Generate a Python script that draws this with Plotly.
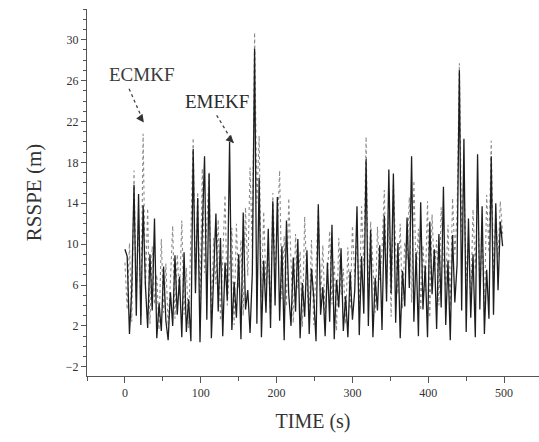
import plotly.graph_objects as go

time_s = list(range(0, 499, 3))

emekf = [9.5, 8.8, 1.2, 5.5, 15.8, 3.0, 14.9, 2.1, 13.8, 6.0, 1.8,
         9.0, 3.5, 12.5, 0.8, 4.2, 1.5, 7.8, 2.5, 0.6, 5.3,
         2.0, 8.9, 3.1, 6.8, 0.9, 9.2, 1.4, 4.6, 0.5, 19.3,
         5.2, 14.5, 0.4, 11.2, 18.6, 2.6, 16.9, 0.8, 7.5, 13.0,
         3.4, 10.6, 1.0, 8.2, 4.5, 20.0, 1.6, 6.3, 2.8, 9.0,
         0.7, 13.1, 3.6, 5.5, 1.3, 7.2, 29.1, 2.2, 16.5, 0.9,
         8.4, 3.3, 11.5, 1.8, 14.2, 4.0, 14.6, 2.5, 9.8, 0.6,
         12.3, 5.1, 2.0, 8.7, 3.4, 10.5, 0.8, 6.2, 2.9, 9.4,
         1.2, 7.6, 4.8, 0.5, 13.9, 3.1, 5.8, 1.0, 8.2, 2.4,
         11.9, 0.7, 6.5, 3.8, 9.6, 1.5, 4.9, 0.9, 7.3, 2.6,
         5.4, 13.7, 1.1, 8.8, 3.2, 18.3, 2.0, 11.4, 0.9, 6.7,
         3.5, 9.9, 1.6, 12.8, 4.4, 17.3, 5.2, 16.9, 2.3, 10.1,
         0.8, 7.4, 3.9, 12.6, 5.7, 18.6, 2.4, 9.2, 1.0, 14.1,
         3.6, 7.9, 0.9, 12.2, 5.1, 9.5, 1.7, 11.0, 3.8, 15.6,
         2.1, 8.4, 0.6, 10.9, 4.3, 8.0, 27.0, 3.5, 20.3, 1.4,
         12.5, 2.8, 9.0, 0.9, 18.8, 3.6, 13.7, 1.2, 7.5, 2.7,
         18.6, 3.1, 14.0, 5.5, 12.2, 9.8]

ecmkf = [8.2, 3.6, 10.1, 2.4, 17.2, 4.8, 12.6, 3.0, 20.8, 5.6, 13.5,
         2.2, 9.8, 4.1, 7.0, 1.6, 10.5, 3.3, 8.1, 2.0, 6.4,
         11.8, 2.7, 9.0, 4.9, 12.3, 3.1, 7.7, 1.8, 10.2, 20.4,
         6.0, 15.1, 3.9, 17.4, 7.2, 11.5, 17.0, 2.8, 10.6, 6.1,
         12.4, 2.5, 9.7, 14.8, 4.0, 8.3, 11.6, 2.1, 12.0, 5.7,
         10.4, 3.0, 13.6, 6.9, 17.5, 9.5, 30.7, 14.0, 20.6, 4.8,
         13.2, 6.0, 9.1, 2.7, 15.0, 7.4, 11.3, 17.2, 4.6, 10.8,
         3.9, 14.5, 7.8, 2.3, 11.0, 5.6, 9.3, 1.9, 12.7, 6.2,
         3.0, 10.4, 2.1, 8.8, 13.5, 4.4, 9.9, 2.6, 6.7, 11.3,
         4.1, 8.3, 1.5, 10.6, 5.0, 7.6, 2.2, 9.7, 3.6, 11.8,
         6.8, 10.5, 3.4, 13.7, 7.9, 20.5, 4.8, 12.2, 8.0, 3.3,
         11.7, 6.5, 9.4, 15.3, 5.8, 13.1, 2.9, 15.8, 9.6, 5.1,
         12.0, 3.7, 10.2, 8.5, 14.6, 4.3, 16.2, 7.0, 11.5, 3.5,
         9.9, 5.4, 14.2, 2.8, 12.9, 7.2, 10.4, 4.0, 13.6, 8.3,
         5.8, 11.9, 3.9, 14.5, 9.0, 13.0, 27.7, 11.2, 17.0, 6.4,
         10.8, 4.2, 13.4, 7.5, 15.6, 5.2, 11.1, 3.0, 14.8, 9.2,
         20.1, 6.6, 13.0, 8.7, 14.2, 11.0]

y_ticks = [-2, 2, 6, 10, 14, 18, 22, 26, 30]
x_ticks = [0, 100, 200, 300, 400, 500]

FONT = "Liberation Serif, Times New Roman, DejaVu Serif, serif"
TXT = "#333333"

fig = go.Figure()
fig.add_trace(go.Scatter(x=time_s, y=ecmkf, mode="lines", name="ECMKF",
                         line=dict(color="#8a8a8a", width=1.1, dash="dot")))
fig.add_trace(go.Scatter(x=time_s, y=emekf, mode="lines", name="EMEKF",
                         line=dict(color="#1e1e1e", width=1.3)))

# dotted leader lines
fig.add_shape(type="line", xref="x", yref="y", x0=5.5, y0=25.2, x1=24.5, y1=22.0,
              line=dict(color="#444", width=1.3, dash="dot"))
fig.add_shape(type="line", xref="x", yref="y", x0=121, y0=22.6, x1=143, y1=19.9,
              line=dict(color="#444", width=1.3, dash="dot"))
# arrow heads
fig.add_annotation(x=25, y=21.9, xref="x", yref="y", ax=-5, ay=-7, text="",
                   showarrow=True, arrowhead=2, arrowsize=1.2, arrowwidth=1.3, arrowcolor="#333")
fig.add_annotation(x=143.5, y=19.9, xref="x", yref="y", ax=-6, ay=-6, text="",
                   showarrow=True, arrowhead=2, arrowsize=1.2, arrowwidth=1.3, arrowcolor="#333")
# labels
fig.add_annotation(x=22.5, y=26.6, xref="x", yref="y", text="ECMKF", showarrow=False,
                   font=dict(family=FONT, size=19, color="#3a3a3a"))
fig.add_annotation(x=121, y=24.0, xref="x", yref="y", text="EMEKF", showarrow=False,
                   font=dict(family=FONT, size=19, color="#2a2a2a"))

fig.update_layout(
    width=539, height=442,
    margin=dict(l=87, r=0, t=9, b=66),
    paper_bgcolor="white", plot_bgcolor="white",
    showlegend=False,
    font=dict(family=FONT, color=TXT),
    xaxis=dict(range=[-50, 546], tickvals=x_ticks, ticks="outside", ticklen=6,
               tickcolor="#555", showline=True, linecolor="#555", linewidth=1,
               showgrid=False, zeroline=False,
               tickfont=dict(family=FONT, size=12, color=TXT),
               minor=dict(dtick=50, tick0=0, ticks="outside", ticklen=4, tickcolor="#555"),
               title=dict(text="TIME (s)", font=dict(family=FONT, size=20, color=TXT), standoff=14)),
    yaxis=dict(range=[-2.9, 33], tickvals=y_ticks, ticks="outside", ticklen=5,
               tickcolor="#555", showline=True, linecolor="#555", linewidth=1,
               showgrid=False, zeroline=False,
               tickfont=dict(family=FONT, size=12, color=TXT),
               minor=dict(dtick=1, tick0=0, ticks="outside", ticklen=3, tickcolor="#555"),
               title=dict(text="RSSPE (m)", font=dict(family=FONT, size=21, color=TXT), standoff=18)),
)

fig.write_html("out.html")
